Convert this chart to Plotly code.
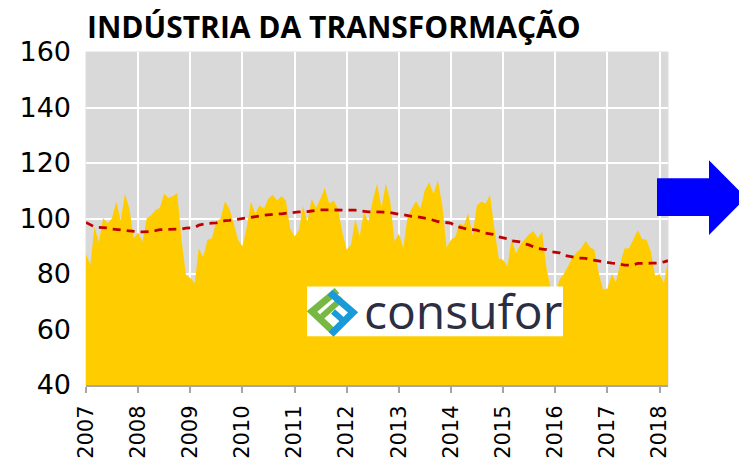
import plotly.graph_objects as go
import pandas as pd

# ---------------- data ----------------
start_month = "2007-01-01"
values = [87.1, 83.3, 97.0, 91.4, 100.2, 98.2, 100.0, 106.0, 99.4, 108.9, 103.6, 92.9,
          95.0, 91.7, 100.0, 101.2, 103.0, 103.8, 108.9, 107.4, 108.1, 109.2, 92.0, 79.6,
          78.6, 76.8, 89.3, 86.0, 92.3, 92.9, 98.8, 100.0, 106.2, 103.6, 98.2, 92.3,
          90.0, 97.0, 106.0, 101.8, 104.8, 103.6, 107.1, 108.6, 106.5, 108.1, 106.5, 96.4,
          93.5, 95.8, 104.5, 98.8, 107.1, 103.8, 107.1, 111.0, 105.4, 106.5, 103.6, 95.2,
          88.7, 90.5, 99.8, 93.5, 102.4, 98.8, 106.5, 112.5, 104.0, 112.5, 106.5, 91.7,
          94.6, 89.3, 100.0, 103.6, 106.2, 103.6, 110.1, 113.1, 108.9, 113.7, 104.8, 89.5,
          92.3, 93.5, 98.2, 97.6, 101.8, 94.0, 104.8, 106.0, 105.4, 108.6, 96.4, 85.7,
          85.1, 82.7, 92.9, 87.5, 90.5, 92.3, 94.3, 95.5, 92.9, 95.2, 82.0, 75.0,
          73.0, 78.0, 80.0, 83.0, 86.0, 87.9, 89.3, 91.9, 89.6, 88.7, 80.4, 74.4,
          74.8, 80.0, 77.0, 84.0, 89.2, 89.3, 92.3, 95.8, 92.6, 92.3, 88.1, 79.2,
          80.0, 76.8, 85.0]
moving_avg = [98.6, 97.6, 97.0, 96.8, 96.7, 96.6, 96.2, 96.0, 96.0, 95.8, 95.5, 95.3,
              95.2, 95.2, 95.2, 95.3, 95.6, 96.0, 96.0, 96.0, 96.0, 96.1, 96.2, 96.5,
              96.7, 96.8, 97.6, 98.0, 98.2, 98.3, 98.4, 98.8, 99.2, 99.3, 99.5, 99.8,
              99.9, 100.1, 100.5, 100.7, 100.9, 101.2, 101.4, 101.5, 101.6, 101.7, 101.8, 101.9,
              102.2, 102.4, 102.4, 102.5, 102.7, 103.0, 103.1, 103.1, 103.1, 103.1, 103.1, 103.1,
              103.1, 103.1, 103.0, 102.8, 102.5, 102.4, 102.4, 102.4, 102.4, 102.3, 102.1, 101.7,
              101.5, 101.4, 101.0, 100.8, 100.7, 100.5, 100.1, 99.8, 99.2, 98.9, 98.7, 98.6,
              98.3, 97.3, 96.9, 96.6, 96.1, 96.0, 95.8, 95.2, 94.7, 94.5, 94.2, 93.4,
              93.1, 92.7, 92.0, 91.9, 91.6, 90.9, 90.5, 89.8, 89.2, 89.0, 88.8, 88.1,
              87.9, 87.6, 86.8, 86.4, 86.1, 85.8, 85.7, 85.6, 85.2, 84.9, 84.8, 84.5,
              84.1, 83.9, 83.8, 83.5, 83.2, 83.2, 83.3, 83.8, 83.9, 83.9, 83.9, 83.9,
              84.0, 84.4, 84.8]
year_labels = [str(y) for y in range(2007, 2019)]
y_ticks = [40, 60, 80, 100, 120, 140, 160]
title_text = "INDÚSTRIA DA TRANSFORMAÇÃO"
logo_text = "consufor"

dates = pd.date_range(start_month, periods=len(values), freq="MS")
year_dates = [f"{y}-01-01" for y in year_labels]

# ---------------- geometry helpers (pixel -> paper) ----------------
W, H = 739, 471
L, R, T, B = 86, 71, 52, 84
PW, PH = W - L - R, H - T - B


def px(x):
    return (x - L) / PW


def py(y):
    return (H - B - y) / PH


fig = go.Figure()
fig.add_trace(go.Scatter(x=dates, y=values, mode="lines", fill="tozeroy",
                         fillcolor="#ffcc00", line=dict(width=0, color="#ffcc00"),
                         hoverinfo="skip", showlegend=False))
fig.add_trace(go.Scatter(x=dates, y=moving_avg, mode="lines",
                         line=dict(color="#c00000", width=2.8, dash="8px,6px"),
                         showlegend=False))

shapes = []
# plot border (light)
shapes.append(dict(type="rect", xref="paper", yref="paper", x0=0, x1=1, y0=0, y1=1,
                   line=dict(color="#dcdcdc", width=1), fillcolor="rgba(0,0,0,0)", layer="below"))
# logo box
shapes.append(dict(type="rect", xref="paper", yref="paper",
                   x0=px(307), x1=px(563), y0=py(338), y1=py(288),
                   fillcolor="white", line=dict(width=0), layer="above"))


def path(points):
    return "M " + " L ".join(f"{px(a):.5f},{py(b):.5f}" for a, b in points)


# logo icon: green and blue interlocking chevrons
shapes.append(dict(type="path", xref="paper", yref="paper",
                   path=path([(337, 292), (312, 313), (334, 334)]),
                   line=dict(color="#76b843", width=7)))
shapes.append(dict(type="path", xref="paper", yref="paper",
                   path=path([(322, 318), (342, 300)]),
                   line=dict(color="#76b843", width=6)))
shapes.append(dict(type="path", xref="paper", yref="paper",
                   path=path([(330, 294), (353, 314), (331, 336)]),
                   line=dict(color="#1a9ad6", width=7)))
shapes.append(dict(type="path", xref="paper", yref="paper",
                   path=path([(333, 313), (343, 322)]),
                   line=dict(color="#1a9ad6", width=6)))
# blue arrow
arrow_pts = [(657, 179), (709, 179), (709, 161), (746, 198.5), (709, 236), (709, 217), (657, 217)]
shapes.append(dict(type="path", xref="paper", yref="paper",
                   path=path(arrow_pts) + " Z", fillcolor="#0000ff",
                   line=dict(width=0), layer="above"))

annotations = [
    dict(text=f"<b>{title_text}</b>", xref="paper", yref="paper", x=px(85), y=py(26),
         xanchor="left", yanchor="middle", showarrow=False,
         font=dict(family="Open Sans", size=30, color="black")),
    dict(text=logo_text, xref="paper", yref="paper", x=px(362), y=py(312),
         xanchor="left", yanchor="middle", showarrow=False,
         font=dict(family="Open Sans", size=48, color="#2c2e44")),
]

fig.update_layout(
    width=W, height=H, autosize=False,
    margin=dict(l=L, r=R, t=T, b=B, pad=0),
    paper_bgcolor="white", plot_bgcolor="#d9d9d9",
    shapes=shapes, annotations=annotations,
    xaxis=dict(type="date", range=[dates[0], dates[-1]],
               tickvals=year_dates, ticktext=year_labels, tickangle=-90,
               showgrid=True, gridcolor="white", gridwidth=2,
               showline=True, linecolor="#a6a6a6", linewidth=2,
               ticks="outside", ticklen=6, tickwidth=2, tickcolor="#a6a6a6",
               ticklabelstandoff=4,
               tickfont=dict(family="DejaVu Sans", size=21, color="black"),
               zeroline=False),
    yaxis=dict(range=[40, 160], tickvals=y_ticks, showgrid=True,
               gridcolor="white", gridwidth=2, zeroline=False, showline=False,
               ticks="", ticklabelstandoff=14,
               tickfont=dict(family="DejaVu Sans", size=27, color="black")),
)

fig.write_html("out.html", config={"displayModeBar": False},
               post_script="document.body.style.margin='0px';")
